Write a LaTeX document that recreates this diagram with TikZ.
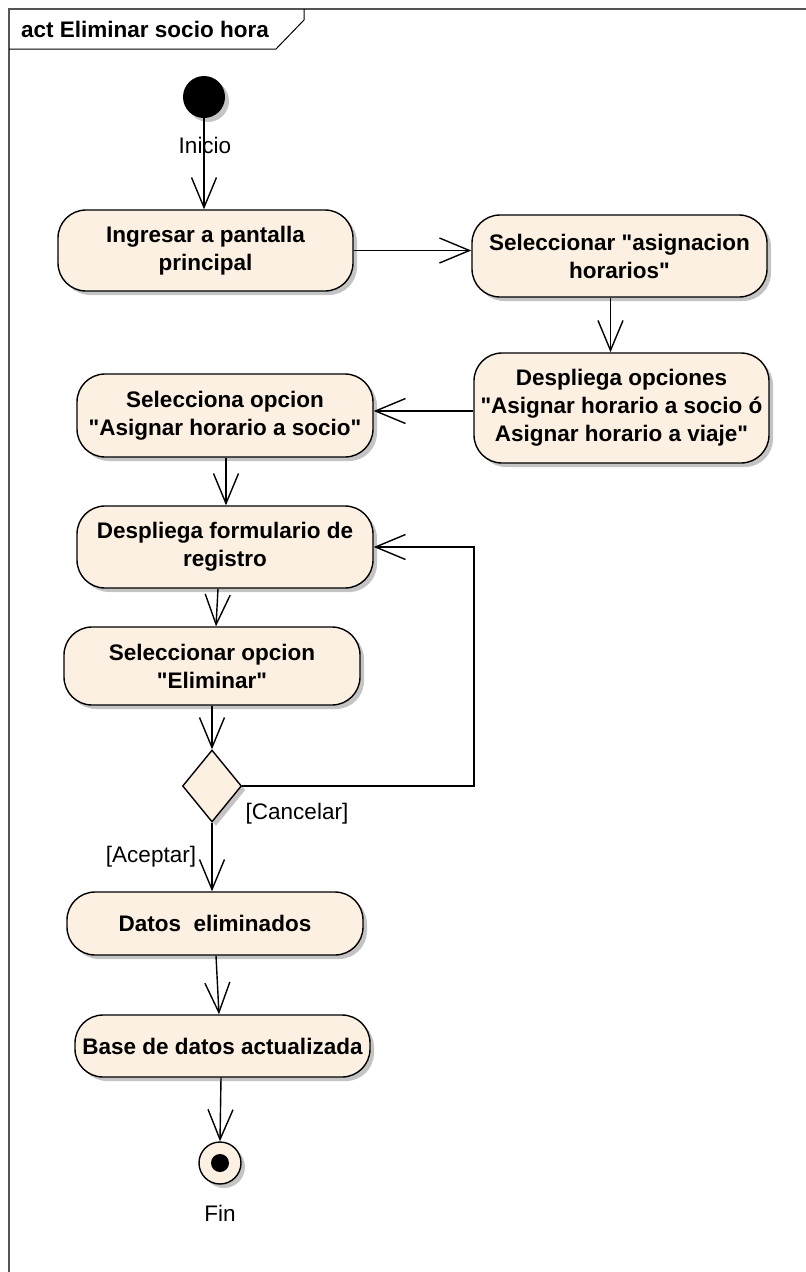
\documentclass[tikz,border=0pt]{standalone}
\usepackage{fontspec}
\setmainfont{Liberation Sans}[Ligatures=TeXOff]
\usetikzlibrary{arrows.meta,shapes.geometric,calc}
\definecolor{actfill}{HTML}{FBF0E1}
\definecolor{shadowc}{HTML}{C4C4C4}
\definecolor{framec}{HTML}{555555}
\tikzset{
  shad/.style={preaction={draw=none,fill=shadowc,transform canvas={shift={(4pt,-4pt)}}}},
  action/.style={shad,draw=black,line width=1.4pt,fill=actfill,rounded corners=28pt,
    inner sep=0pt,align=center,font=\bfseries\fontsize{22.5}{28}\selectfont},
  decision/.style={shad,draw=black,line width=1.4pt,fill=actfill,diamond,aspect=0.82,
    minimum width=59pt,minimum height=72pt,inner sep=0pt},
  arr/.style={line width=1.4pt,-{Straight Barb[length=30pt,width=25pt,line width=1.4pt]}},
  lbl/.style={font=\fontsize{22.5}{28}\selectfont,inner sep=0pt},
}
\begin{document}
\begin{tikzpicture}[x=1pt,y=-1pt]
\useasboundingbox (0,0) rectangle (806,1272);
% frame
\draw[framec,line width=1.2pt] (9,1272) -- (9,9) -- (806,9);
\draw[black,line width=1pt] (9,49) -- (276,49) -- (304,20) -- (304,9);
\node[anchor=base west,inner sep=0pt,font=\bfseries\fontsize{22.5}{28}\selectfont] (title) at (21,37) {act Eliminar socio hora};

% initial
\node[shad,circle,fill=black,minimum size=42pt,inner sep=0pt] (init) at (204,97) {};
\node[lbl] (linit) at (205,145) {Inicio};

% actions
\node[action,minimum width=295pt,minimum height=81pt] (b1) at (205.5,250.5) {Ingresar a pantalla\\principal};
\node[action,minimum width=295pt,minimum height=82pt] (b2) at (619.5,256) {Seleccionar "asignacion\\horarios"};
\node[action,minimum width=295pt,minimum height=110pt] (b3) at (621.5,408) {Despliega opciones\\"Asignar horario a socio ó\\Asignar horario a viaje"};
\node[action,minimum width=296pt,minimum height=83pt] (b4) at (225,415.5) {Selecciona opcion\\"Asignar horario a socio"};
\node[action,minimum width=296pt,minimum height=82pt] (b5) at (225,547) {Despliega formulario de\\registro};
\node[action,minimum width=296pt,minimum height=78pt] (b6) at (212,666) {Seleccionar opcion\\"Eliminar"};
\node[decision] (dec) at (212,786) {};
\node[action,minimum width=296pt,minimum height=63pt] (b7) at (215,923.5) {Datos~~eliminados};
\node[action,minimum width=295pt,minimum height=62pt] (b8) at (222.5,1046) {Base de datos actualizada};

% final
\node[shad,circle,draw=black,line width=1.4pt,fill=actfill,minimum size=42pt,inner sep=0pt] (fin) at (220,1163) {};
\node[circle,fill=black,minimum size=18pt,inner sep=0pt] (fininner) at (fin) {};
\node[lbl] (lfin) at (220,1213) {Fin};

% guard labels
\node[lbl] (lcan) at (297,814) {[Cancelar]};
\node[lbl] (lacc) at (151,857) {[Aceptar]};

% connectors
\draw[arr] (init.south) -- (init.south |- b1.north);
\draw[arr] (b1.east) -- (b1.east -| b2.west);
\draw[arr] ([xshift=-9pt]b2.south) -- ([xshift=-9pt]b2.south |- b3.north);
\draw[arr] ([yshift=-3pt]b3.west) -- ([yshift=-3pt]b3.west -| b4.east);
\draw[arr] ([xshift=1pt]b4.south) -- ([xshift=1pt]b4.south |- b5.north);
\draw[arr] ([xshift=-7pt]b5.south) -- ([xshift=4pt]b6.north);
\draw[arr] (b6.south) -- (dec.north);
\coordinate (loop) at (474,547);
\draw[arr] (dec.east) -| (loop) -- (b5.east);
\draw[arr] (dec.south) -- (dec.south |- b7.north);
\draw[arr] ([xshift=1pt]b7.south) -- ([xshift=-3.5pt]b8.north);
\draw[arr] ([xshift=-1.5pt]b8.south) -- (fin.north);
\end{tikzpicture}
\end{document}
